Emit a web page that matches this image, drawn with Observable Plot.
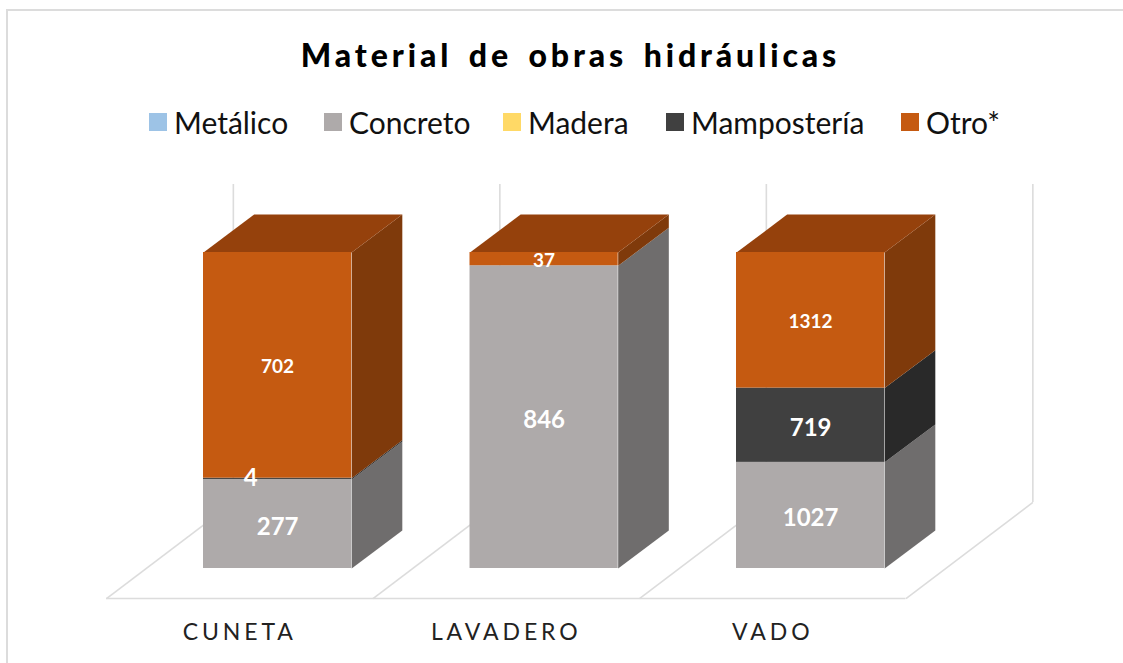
<!DOCTYPE html>
<html lang="es">
<head>
<meta charset="utf-8">
<script src="https://cdn.jsdelivr.net/npm/d3@7"></script>
<script src="https://cdn.jsdelivr.net/npm/@observablehq/plot@0.6"></script>
<style>
  html, body { margin: 0; padding: 0; background: #fff; }
  #page { position: relative; width: 1123px; height: 663px; overflow: hidden; font-family: Lato, "Open Sans", sans-serif; }
  #frame { position: absolute; left: 6px; top: 9px; width: 1300px; height: 800px; border: 2px solid #dcdcdc; }
  #title { position: absolute; left: 0; width: 1141px; top: 33px; text-align: center; font-size: 32px; line-height: 44px; font-weight: 900; letter-spacing: 3.9px; word-spacing: 5px; color: #000; white-space: nowrap; }
  .key { position: absolute; top: 102px; height: 40px; line-height: 40px; font-size: 30px; color: #111; white-space: nowrap; }
  .key i { position: absolute; top: 11px; left: 0; width: 18px; height: 18px; }
  .key span { position: absolute; left: 25px; top: 0; }
  #chart { position: absolute; left: 0; top: 165px; }
</style>
</head>
<body>
<div id="page">
  <div id="frame"></div>
  <div id="title">Material de obras hidráulicas</div>
  <div id="legend"></div>
  <div id="chart"></div>
</div>
<script>
const categories = ["CUNETA", "LAVADERO", "VADO"];
const materials = ["Metálico", "Concreto", "Madera", "Mampostería", "Otro*"];
const metalico = [0, 0, 0];
const concreto = [277, 846, 1027];
const madera = [0, 0, 0];
const mamposteria = [4, 0, 719];
const otro = [702, 37, 1312];
const seriesValues = [metalico, concreto, madera, mamposteria, otro];

const frontColors = ["#9DC3E6", "#AEAAAA", "#FFD966", "#404040", "#C55A11"];
const sideColors = ["#5E7F9C", "#6F6D6D", "#A68C42", "#292929", "#7F3A0B"];
const topColor = "#95410C";
const gridColor = "#dcdcdc";
const legendLeft = [149, 324, 503, 666, 901];

// Layout of the 3-D box, in scale units (x: one category slot, y: share of the column)
const barStart = 0.364, barEnd = 0.92;
const depthX = 0.19, depthY = 0.12;
const floorX = 0.476, floorBack = 0.209, floorFront = -0.095, wallTop = 1.215, labelY = -0.2025;
const chartTop = 165, chartHeight = 498;

// Table of stacked segments, built from the arrays above
const segments = [];
categories.forEach((cat, c) => {
  const total = d3.sum(seriesValues, s => s[c]);
  let acc = 0;
  materials.forEach((m, k) => {
    const v = seriesValues[k][c];
    if (v > 0) {
      segments.push({cat: c, material: k, value: v, label: String(v), y1: acc / total, y2: (acc + v) / total,
        x1: c + barStart, x2: c + barEnd});
    }
    acc += v;
  });
});

const sideFaces = segments.flatMap((s, i) => [
  {id: i, x: s.x2, y: s.y1, fill: sideColors[s.material]},
  {id: i, x: s.x2 + depthX, y: s.y1 + depthY, fill: sideColors[s.material]},
  {id: i, x: s.x2 + depthX, y: s.y2 + depthY, fill: sideColors[s.material]},
  {id: i, x: s.x2, y: s.y2, fill: sideColors[s.material]}
]);
const topFaces = categories.flatMap((_, c) => {
  const x1 = c + barStart, x2 = c + barEnd;
  return [
    {id: c, x: x1, y: 1}, {id: c, x: x2, y: 1},
    {id: c, x: x2 + depthX, y: 1 + depthY}, {id: c, x: x1 + depthX, y: 1 + depthY}
  ];
});
const slotEdges = d3.range(categories.length + 1);
const mid = s => (s.y1 + s.y2) / 2;
const cx = s => (s.x1 + s.x2) / 2;
const smallLabels = segments.filter(s => s.material === 4);
const bigLabels = segments.filter(s => s.material !== 4 && s.value > 4);
const offLabels = segments.filter(s => s.value <= 4);

const legend = document.getElementById("legend");
materials.forEach((m, k) => {
  const el = document.createElement("div");
  el.className = "key";
  el.style.left = legendLeft[k] + "px";
  el.innerHTML = `<i style="background:${frontColors[k]}"></i><span>${m}</span>`;
  legend.appendChild(el);
});

const chart = Plot.plot({
  width: 1123,
  height: chartHeight,
  margin: 0,
  style: {background: "transparent", fontFamily: "Lato, 'Open Sans', sans-serif"},
  x: {domain: [0, categories.length], range: [106, 905.5], axis: null},
  y: {domain: [0, 1], range: [568 - chartTop, 252 - chartTop], axis: null},
  color: {type: "identity"},
  marks: [
    Plot.ruleX(slotEdges, {x: d => d + floorX, y1: floorBack, y2: wallTop, stroke: gridColor, strokeWidth: 1.6}),
    Plot.link(slotEdges, {x1: d => d, y1: floorFront, x2: d => d + floorX, y2: floorBack, stroke: gridColor, strokeWidth: 1.6}),
    Plot.ruleY([floorFront], {x1: 0, x2: categories.length, stroke: gridColor, strokeWidth: 1.6}),
    Plot.line(sideFaces, {x: "x", y: "y", z: "id", fill: "fill", stroke: null}),
    Plot.line(topFaces, {x: "x", y: "y", z: "id", fill: topColor, stroke: null}),
    Plot.rect(segments, {x1: "x1", x2: "x2", y1: "y1", y2: "y2", fill: s => frontColors[s.material]}),
    Plot.text(bigLabels, {x: cx, y: mid, text: "label", fill: "white", fontSize: 24, fontWeight: 700, dy: 3}),
    Plot.text(smallLabels, {x: cx, y: mid, text: "label", fill: "white", fontSize: 19, fontWeight: 700, dy: 2}),
    Plot.text(offLabels, {x: cx, y: mid, text: "label", fill: "white", fontSize: 24, fontWeight: 700, dx: -27}),
    Plot.text(categories, {
      x: (d, i) => i + 0.5,
      y: labelY,
      text: d => d,
      fontSize: 23,
      fill: "#222"
    })
  ]
});
chart.querySelectorAll("text").forEach(t => {
  if (categories.includes(t.textContent)) t.style.letterSpacing = "3.9px";
});
document.getElementById("chart").appendChild(chart);
</script>
</body>
</html>
